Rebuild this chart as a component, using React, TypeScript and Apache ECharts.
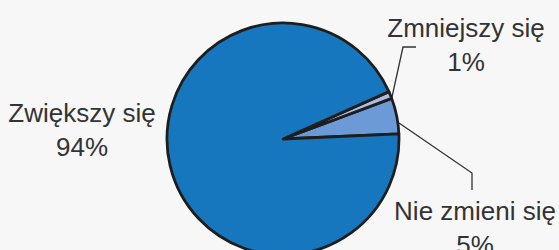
import React, { useEffect, useRef } from "react";
import * as echarts from "echarts";

const categories = ["Nie zmieni się", "Zmniejszy się", "Zwiększy się"];
const values = [5, 1, 94];
const colors = ["#6b9ad6", "#a9bfe2", "#1677be"];

export default function App() {
  const ref = useRef<HTMLDivElement>(null);
  useEffect(() => {
    const chart = echarts.init(ref.current!, undefined, { renderer: "svg" });
    const labelPos: Record<number, any> = {
      0: { x: 475, y: 228, pts: [[399, 123], [472, 173], [472, 190]] },
      1: { x: 466, y: 45, pts: [[392, 97], [403, 47], [416, 47]] },
      2: { x: 82, y: 130, pts: null },
    };
    chart.setOption({
      animation: false,
      backgroundColor: "#f7f7f7",
      series: [
        {
          type: "pie",
          center: [283, 139],
          radius: 116,
          startAngle: 2.5,
          clockwise: false,
          data: categories.map((name, i) => ({
            name,
            value: values[i],
            itemStyle: { color: colors[i] },
            labelLine: { show: i !== 2 },
          })),
          itemStyle: { borderColor: "#1e1e1e", borderWidth: 2.8 },
          label: {
            show: true,
            formatter: "{b}\n{c}%",
            fontFamily: "Liberation Sans, Arial, sans-serif",
            fontSize: 26,
            lineHeight: 34,
            color: "#333333",
            align: "center",
            overflow: "none",
            width: 200,
            alignTo: "none",
          },
          labelLine: {
            show: true,
            lineStyle: { color: "#333333", width: 1.3 },
          },
          labelLayout: (p: any) => {
            const l = labelPos[p.dataIndex];
            const out: any = { x: l.x, y: l.y, align: "center", verticalAlign: "middle", width: 200 };
            if (l.pts) out.labelLinePoints = l.pts;
            return out;
          },
          emphasis: { disabled: true },
        },
      ],
    });
    return () => chart.dispose();
  }, []);
  return (
    <div
      ref={ref}
      style={{ position: "absolute", left: 0, top: 0, width: 559, height: 250 }}
    />
  );
}
